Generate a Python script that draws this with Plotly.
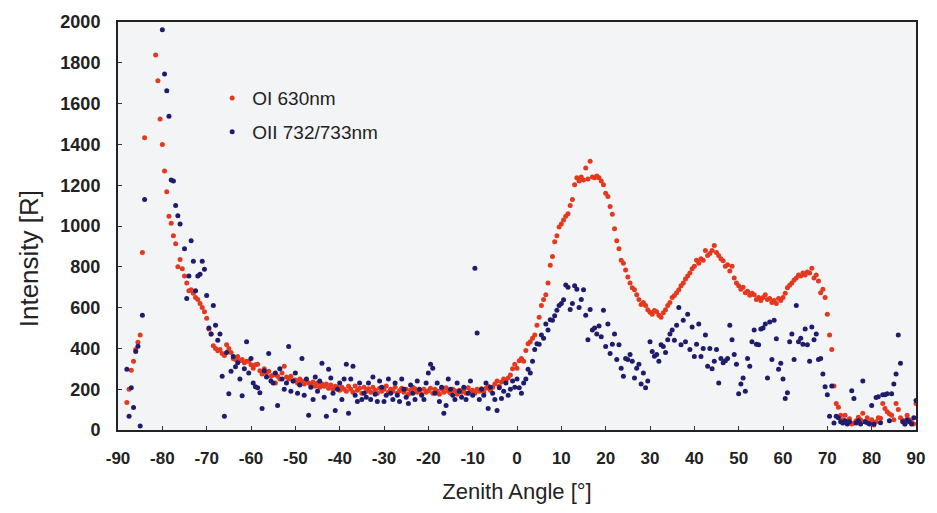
import plotly.graph_objects as go

# Scan angles (deg), 0.5 deg steps from -90 to 90
angles = [round(-90 + 0.5 * i, 1) for i in range(361)]

N = None
oi_630 = [
    N, N, N, N, 135, 200, 293, 337, 394, 430, 466, 870, 1433, N, N, N, N, 1838, 1712, 1524,
    1400, 1270, 1168, 1048, 1014, 952, 913, 800, 836, 790, 755, 720, 683, 687, 670, 650, 640, 620, 601, 580,
    548, 495, 470, 413, 400, 389, 395, 375, 365, 418, 400, 380, 351, 345, 360, 340, 345, 330, 337, 337,
    320, 303, 320, 322, 290, 274, 300, 280, 288, 264, 270, 231, 264, 250, 280, 312, 260, 250, 264, 240,
    245, 230, 250, 240, 225, 245, 230, 220, 235, 215, 230, 210, 225, 215, 226, 205, 220, 200, 215, 210,
    195, 210, 200, 190, 215, 200, 185, 216, 195, 205, 180, 210, 190, 202, 185, 210, 195, 180, 205, 190,
    200, 216, 185, 200, 190, 210, 180, 192, 205, 185, 200, 175, 195, 210, 202, 185, 195, 175, 200, 185,
    192, 205, 180, 200, 190, 175, 200, 185, 207, 190, 180, 200, 192, 175, 195, 185, 200, 180, 207, 190,
    195, 180, 200, 190, 202, 185, 205, 215, 195, 210, 226, 240, 215, 235, 250, 240, 255, 270, 300, 322,
    303, 340, 351, 337, 390, 423, 433, 450, 466, 514, 553, 610, 640, 663, 721, 808, 851, 923, 952, 995,
    1010, 1030, 1048, 1060, 1100, 1130, 1202, 1236, 1220, 1240, 1226, 1284, 1230, 1317, 1240, 1236, 1245, 1236, 1220, 1202,
    1160, 1144, 1096, 1058, 986, 928, 889, 832, 817, 784, 750, 721, 697, 688, 663, 640, 615, 625, 610, 590,
    577, 567, 586, 580, 563, 553, 575, 590, 610, 625, 650, 659, 673, 688, 707, 720, 740, 755, 769, 790,
    803, 832, 817, 840, 832, 880, 856, 865, 880, 904, 870, 856, 840, 830, 803, 810, 780, 803, 745, 721,
    707, 690, 700, 673, 680, 660, 670, 663, 640, 650, 635, 650, 663, 640, 645, 625, 635, 620, 645, 635,
    650, 670, 697, 710, 721, 735, 745, 760, 755, 769, 760, 775, 769, 793, 745, 760, 731, 673, 690, 650,
    567, 466, 394, 216, 130, 111, 72, 50, 72, 40, 55, 30, 34, 45, 62, 50, 82, 40, 60, 35,
    50, 24, 40, 60, 58, 130, 106, 90, 80, 72, 50, 130, 100, 60, 48, 30, 72, 50, 38, 30,
    130,
]

oii_732 = [
    N, N, N, N, 298, 67, 207, 110, 385, 410, 19, 562, 1130, N, N, N, N, N, N, N,
    1962, 1745, 1663, 1538, 1226, 1220, 1100, 1050, 1010, N, 889, 644, 755, 928, 827, 683, 755, 764, 827, 788,
    659, 500, 471, 610, 514, 440, 471, 264, 67, 380, 178, 288, 360, 310, 330, 250, 168, 300, 433, 280,
    350, 231, 212, 207, 183, 106, 290, 260, 375, 240, 231, 280, 120, 300, 250, 200, 230, 409, 190, 240,
    280, 180, 220, 351, 170, 250, 72, 210, 150, 260, 190, 240, 327, 160, 67, 298, 255, 180, 96, 200,
    230, 150, 250, 322, 82, 250, 312, 170, 140, 230, 150, 180, 160, 230, 150, 260, 175, 140, 240, 210,
    140, 170, 250, 180, 150, 230, 170, 140, 250, 200, 160, 130, 220, 180, 150, 240, 200, 170, 150, 230,
    279, 322, 303, 180, 230, 140, 210, 82, 120, 250, 200, 170, 150, 230, 190, 160, 210, 150, 180, 240,
    170, 793, 476, 150, 200, 170, 230, 106, 210, 180, 150, 96, 207, 154, 190, 230, 170, 200, 240, 210,
    250, 207, 180, 230, 250, 298, 280, 337, 394, 423, 420, 466, 450, 519, 490, 540, 538, 560, 587, 610,
    620, 639, 711, 700, 591, 620, 707, 690, 601, 640, 688, 563, 442, 591, 490, 500, 470, 510, 457, 587,
    409, 519, 375, 420, 471, 346, 418, 303, 264, 350, 346, 370, 337, 255, 303, 322, 226, 279, 207, 240,
    433, 385, 361, 370, 337, 418, 409, 380, 442, 471, 490, 440, 514, 601, 418, 538, 433, 567, 394, 505,
    360, 420, 519, 360, 399, 466, 313, 399, 300, 337, 394, 231, 350, 330, 340, 351, 514, 442, 370, 322,
    178, 226, 255, 190, 351, 312, 433, 490, 420, 418, 495, 500, 519, 255, 529, 346, 538, 447, 298, 327,
    250, 154, 183, 433, 471, 346, 610, 433, 450, 420, 495, 418, 337, 505, 442, 470, 346, 351, 274, 212,
    173, 67, 216, 34, 67, 60, 40, 34, 45, 30, 40, 192, 154, 34, 45, 30, 240, 40, 35, 30,
    120, 30, 159, 163, 35, 173, 173, 178, 45, 178, 226, 274, 466, 327, 40, 30, 50, 40, 30, 60,
    144,
]

x_ticks = list(range(-90, 91, 10))
y_ticks = list(range(0, 2001, 200))

FONT = "Liberation Sans, Arial, sans-serif"
RED = "#e4391f"
NAVY = "#1f1d6b"

fig = go.Figure()
fig.add_trace(go.Scatter(x=angles, y=oi_630, mode="markers", name="OI 630nm", legendgroup="a",
                         marker=dict(color=RED, size=5, line=dict(width=0))))
fig.add_trace(go.Scatter(x=angles, y=oii_732, mode="markers", name="OII 732/733nm", legendgroup="b",
                         marker=dict(color=NAVY, size=5, line=dict(width=0))))

fig.update_layout(
    width=937, height=513,
    margin=dict(l=118, r=17, t=12, b=83),
    paper_bgcolor="white",
    plot_bgcolor="#f3f4f6",
    font=dict(family=FONT, color="#222"),
    showlegend=True,
    legend=dict(x=0.118, y=0.86, xanchor="left", yanchor="top",
                bgcolor="rgba(0,0,0,0)", font=dict(size=19, color="#222"),
                tracegroupgap=6, itemwidth=30),
    annotations=[dict(text="Intensity [R]", textangle=-90, xref="paper", yref="paper",
                      x=-0.112, y=0.42, xanchor="center", yanchor="middle", showarrow=False,
                      font=dict(size=26, family=FONT, color="#222"))],
)
fig.update_xaxes(
    range=[-90, 90], tickvals=x_ticks, ticktext=[str(v) for v in x_ticks],
    ticks="inside", ticklen=4, tickcolor="#333",
    showline=True, linecolor="#222", linewidth=2, mirror=True,
    showgrid=False, zeroline=False, ticklabelstandoff=12,
    tickfont=dict(size=17, family=FONT, weight="bold", color="#222"),
    title=dict(text="Zenith Angle [°]", font=dict(size=22, family=FONT, color="#222"), standoff=16),
)
fig.update_yaxes(
    range=[0, 2000], tickvals=y_ticks,
    ticks="inside", ticklen=4, tickcolor="#333",
    showline=True, linecolor="#222", linewidth=2, mirror=True,
    showgrid=False, zeroline=False, ticklabelstandoff=12,
    tickfont=dict(size=18, family=FONT, weight="bold", color="#222"),
)

fig.write_html("out.html")
